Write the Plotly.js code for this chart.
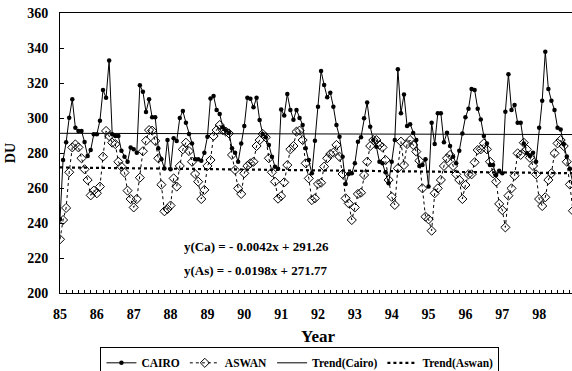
<!DOCTYPE html>
<html>
<head>
<meta charset="utf-8">
<script src="https://cdn.plot.ly/plotly-3.0.1.min.js"></script>
<style>
html, body { margin:0; padding:0; overflow:hidden; background:#fff; }
#chart { width:600px; height:371px; }
</style>
</head>
<body>
<div id="chart"></div>
<script>
// Years (two-digit) and monthly total ozone (DU)
const years = [85,86,87,88,89,90,91,92,93,94,95,96,97,98];
const cairo = [
242.1,276.0,286.1,300.2,310.7,294.5,292.6,292.6,286.3,278.3,281.7,290.7,
290.7,298.5,316.0,311.6,332.8,290.7,289.7,289.7,281.3,277.9,275.0,283.2,
282.1,280.2,318.7,315.0,303.4,310.7,300.4,300.4,282.7,276.4,271.2,287.4,
270.7,288.4,286.9,300.0,304.0,297.3,290.9,285.5,276.4,276.4,275.6,280.2,
289.3,311.2,312.6,304.6,302.3,294.7,292.8,291.6,282.7,280.2,275.0,285.5,
295.4,311.6,311.0,306.1,311.6,298.9,290.9,289.0,284.6,277.9,272.2,271.0,
304.9,301.5,313.7,304.6,299.0,304.6,300.0,296.0,282.7,276.0,268.4,287.0,
306.5,326.9,318.9,311.8,314.5,306.5,296.0,289.3,277.9,262.3,268.0,268.4,
274.1,286.5,289.0,299.8,308.8,295.0,287.4,283.6,275.0,274.1,269.0,262.7,
275.0,287.4,327.8,302.7,313.5,295.4,296.5,291.5,287.4,272.6,273.1,276.4,
260.8,297.3,285.1,302.7,302.7,286.1,291.6,284.0,277.9,274.1,281.3,291.2,
300.4,305.3,316.6,316.0,305.3,299.2,289.7,285.5,273.1,273.1,267.4,269.9,
268.4,303.6,325.0,304.6,307.4,297.3,297.3,285.5,279.8,278.3,280.2,275.0,
294.5,309.9,337.9,316.6,309.9,304.6,294.5,293.5,285.0,278.0,271.0,263.0
];
const aswan = [
230.7,241.7,248.6,269.0,283.2,284.9,283.2,277.0,270.7,264.6,255.8,258.5,
257.0,260.8,277.9,292.6,289.7,285.9,285.1,275.0,272.2,268.8,258.5,253.7,
248.9,253.7,265.9,281.0,287.0,293.1,292.8,286.9,277.0,261.9,246.7,248.0,
250.0,265.5,260.8,272.6,282.1,285.9,281.1,275.0,268.0,263.6,253.7,258.9,
272.6,276.0,289.7,293.1,296.0,293.1,292.2,291.2,278.9,270.3,259.8,256.6,
268.4,272.6,274.1,275.0,284.0,287.4,290.9,289.0,277.0,269.0,263.6,253.9,
255.4,263.2,273.1,282.1,284.0,292.2,292.8,287.4,274.1,265.5,253.1,254.1,
262.3,263.0,272.2,277.0,279.4,280.2,284.6,277.9,268.0,254.1,251.2,241.7,
248.9,256.6,257.3,267.4,275.0,284.0,287.4,287.4,284.6,283.2,276.0,264.6,
255.0,250.3,271.2,286.5,273.1,285.1,287.4,284.6,280.8,275.6,259.8,243.6,
242.1,235.6,257.0,259.8,264.6,272.6,277.0,278.9,272.6,267.8,264.6,253.7,
261.7,267.8,267.8,274.7,281.7,282.1,285.5,282.1,275.0,268.4,263.6,250.9,
247.4,237.5,255.6,259.8,267.0,279.8,278.9,285.9,282.1,277.3,272.6,267.8,
253.7,249.7,254.7,264.6,268.4,279.8,285.5,287.4,284.0,275.0,262.0,247.0
];
// Linear trend end values from the equations shown on the chart
const trendYears = [85, 98.9167];
const trendCairo = [291.26, 290.55];
const trendAswan = [271.75, 268.44];
const equations = ["y(Ca) = - 0.0042x + 291.26", "y(As) = - 0.0198x + 271.77"];
const yTicks = [200,220,240,260,280,300,320,340,360];

const x = [];
years.forEach(y => { for (let m = 0; m < 12; m++) x.push(y + m/12); });

const FONT = "Liberation Serif";

const traces = [
  {x: trendYears, y: trendCairo, mode:'lines', name:'Trend(Cairo)', legendrank:3,
   line:{color:'#000', width:1}},
  {x: trendYears, y: trendAswan, mode:'lines', name:'Trend(Aswan)', legendrank:4,
   line:{color:'#000', width:2.2, dash:'dot'}},
  {x: x, y: aswan, mode:'lines+markers', name:'ASWAN', legendrank:2,
   line:{color:'#000', width:1, dash:'dot'},
   marker:{symbol:'diamond-open', size:7, color:'#000', line:{width:1, color:'#000'}}},
  {x: x, y: cairo, mode:'lines+markers', name:'CAIRO', legendrank:1,
   line:{color:'#000', width:1},
   marker:{symbol:'circle', size:4.5, color:'#000'}}
];

const layout = {
  width:600, height:371,
  margin:{l:60, r:24, t:12.5, b:78, autoexpand:false},
  paper_bgcolor:'#fff', plot_bgcolor:'#fff',
  font:{family:FONT, color:'#000', size:14, weight:'bold'},
  showlegend:true,
  legend:{orientation:'h', x:0.465, xanchor:'center', y:-0.194, yanchor:'top',
    bordercolor:'#000', borderwidth:1, bgcolor:'#fff',
    font:{family:FONT, size:11.5, color:'#000', weight:'bold'},
    traceorder:'normal', itemwidth:30, tracegroupgap:0},
  xaxis:{range:[85,99], tickvals:years, ticktext:years.map(String),
    showline:true, linecolor:'#000', linewidth:1, mirror:true,
    ticks:'inside', ticklen:3, tickcolor:'#000',
    minor:{dtick:1/6, tick0:85, ticks:'inside', ticklen:3, tickcolor:'#000'},
    showgrid:false, zeroline:false, ticklabelstandoff:8,
    tickfont:{family:FONT, size:14, color:'#000', weight:'bold'},
    title:{text:'Year', font:{family:FONT, size:17, color:'#000', weight:'bold'}, standoff:9}},
  yaxis:{range:[200,360], tickvals:yTicks,
    showline:true, linecolor:'#000', linewidth:1, mirror:true,
    ticks:'inside', ticklen:4, tickcolor:'#000',
    showgrid:false, zeroline:false, ticklabelstandoff:8,
    tickfont:{family:FONT, size:14, color:'#000', weight:'bold'},
    title:{text:'DU', font:{family:FONT, size:14, color:'#000', weight:'bold'}, standoff:8}},
  annotations:[
    {x:88.3, y:226.5, xref:'x', yref:'y', text:equations[0], showarrow:false, xanchor:'left',
     font:{family:FONT, size:13, color:'#000', weight:'bold'}},
    {x:88.3, y:213, xref:'x', yref:'y', text:equations[1], showarrow:false, xanchor:'left',
     font:{family:FONT, size:13, color:'#000', weight:'bold'}}
  ]
};

Plotly.newPlot('chart', traces, layout, {displayModeBar:false, staticPlot:true});
</script>
</body>
</html>
